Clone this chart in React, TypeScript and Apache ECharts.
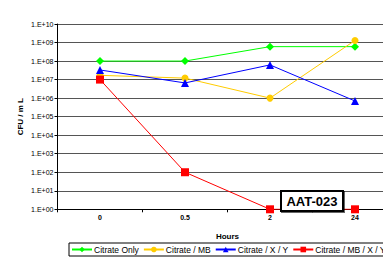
import React, { useEffect, useRef } from "react";
import * as echarts from "echarts";

const categories = ["0", "0.5", "2", "24"];
const citrateOnly = [1e8, 1e8, 6e8, 6e8];
const citrateMB = [1.7e7, 1.2e7, 1e6, 1.3e9];
const citrateXY = [3.3e7, 6.6e6, 6.2e7, 7e5];
const citrateMBXY = [1e7, 1e2, 1, 1];
const seriesNames = ["Citrate Only", "Citrate / MB", "Citrate / X / Y", "Citrate / MB / X / Y"];

export default function App() {
  const ref = useRef<HTMLDivElement>(null);
  useEffect(() => {
    const chart = echarts.init(ref.current!, null, { renderer: "svg" });
    const font = "Arial, 'Liberation Sans', sans-serif";
    const mk = (name: string, data: number[], color: string, symbol: string, size: number) => ({
      name,
      type: "line",
      data,
      symbol,
      symbolSize: size,
      showAllSymbol: true,
      lineStyle: { color, width: 1 },
      itemStyle: { color },
      z: 3,
    });
    chart.setOption({
      animation: false,
      textStyle: { fontFamily: font },
      grid: { left: 57.5, top: 24, width: 340, height: 185.3, outerBoundsMode: "none", containLabel: false },
      xAxis: {
        type: "category",
        data: categories,
        boundaryGap: true,
        name: "Hours",
        nameLocation: "middle",
        nameGap: 23.5,
        nameMoveOverlap: false,
        nameTextStyle: { fontSize: 8, fontWeight: "bold", color: "#000" },
        axisLine: { lineStyle: { color: "#000", width: 1 } },
        axisTick: { show: true, length: 3, lineStyle: { color: "#000" } },
        axisLabel: { fontSize: 7, fontWeight: "bold", color: "#000", margin: 5 },
        splitLine: { show: false },
      },
      yAxis: {
        type: "log",
        logBase: 10,
        min: 1,
        max: 1e10,
        interval: 1,
        name: "CFU / m L",
        nameLocation: "middle",
        nameGap: 33,
        nameRotate: 90,
        nameMoveOverlap: false,
        nameTextStyle: { fontSize: 8, fontWeight: "bold", color: "#000" },
        axisLine: { show: true, lineStyle: { color: "#000", width: 1 } },
        axisTick: { show: true, length: 3, lineStyle: { color: "#000" } },
        axisLabel: {
          fontSize: 7,
          color: "#000",
          margin: 4,
          formatter: (v: number) => "1.E+" + String(Math.round(Math.log10(v))).padStart(2, "0"),
        },
        splitLine: { show: true, lineStyle: { color: "#555", width: 1 } },
      },
      legend: {
        data: seriesNames,
        left: 69,
        top: 243,
        width: 420,
        orient: "horizontal",
        itemWidth: 20,
        itemHeight: 7,
        itemGap: 4,
        padding: [2, 4, 2, 2],
        borderColor: "#000",
        borderWidth: 1,
        backgroundColor: "#fff",
        textStyle: { fontSize: 8.5, color: "#000", padding: [0, 0, 0, -3] },
      },
      series: [
        mk(seriesNames[0], citrateOnly, "#00FF00", "diamond", 8),
        mk(seriesNames[1], citrateMB, "#FFCC00", "circle", 7),
        mk(seriesNames[2], citrateXY, "#0000FF", "triangle", 8),
        mk(seriesNames[3], citrateMBXY, "#FF0000", "rect", 8),
      ],
      graphic: [
        {
          type: "rect",
          shape: { x: 281, y: 191, width: 62, height: 20 },
          style: { fill: "#fff", stroke: "#000", lineWidth: 2, shadowColor: "rgba(0,0,0,0.6)", shadowOffsetX: 1, shadowOffsetY: 1 },
          z: 10,
        },
        {
          type: "text",
          x: 312,
          y: 201,
          style: { text: "AAT-023", fontSize: 13, fontWeight: "bold", fill: "#000", align: "center", verticalAlign: "middle", fontFamily: font },
          z: 11,
        },
      ],
    });
    return () => chart.dispose();
  }, []);
  return <div ref={ref} style={{ position: "absolute", left: 0, top: 0, width: 383, height: 259 }} />;
}
